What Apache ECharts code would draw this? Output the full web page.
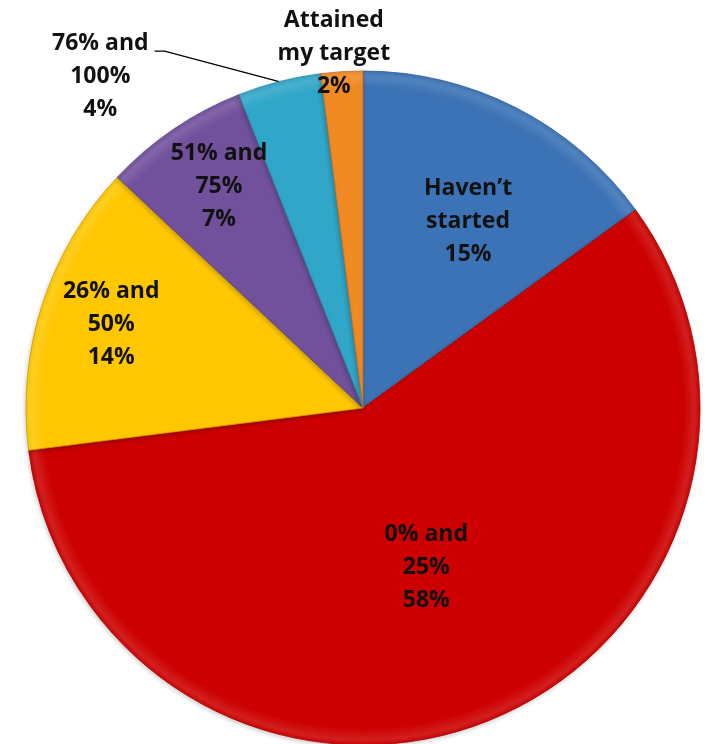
<!DOCTYPE html>
<html>
<head>
<meta charset="utf-8">
<script src="https://cdn.jsdelivr.net/npm/echarts@6/dist/echarts.min.js"></script>
<style>
  html, body { margin: 0; padding: 0; background: #ffffff; }
  #chart { width: 709px; height: 744px; }
</style>
</head>
<body>
<div id="chart"></div>
<script>
// Progress toward target: share of respondents in each band
const categories = ["Haven\u2019t started", "0% and 25%", "26% and 50%", "51% and 75%", "76% and 100%", "Attained my target"];
const labelTexts = ["Haven\u2019t\nstarted", "0% and\n25%", "26% and\n50%", "51% and\n75%", "76% and\n100%", "Attained\nmy target"];
const values = [15, 58, 14, 7, 4, 2];
const colors = ["#3b73b6", "#cc0000", "#ffc700", "#71519c", "#30a6c8", "#f28a24"];

// Pie geometry (pixels)
const CX = 363, CY = 408, R = 337;

// Label placement: radius as a fraction of R, angle nudge in degrees
const labelRadius = [0.635, 0.51, 0.787, 0.785, 1.255, 1.055];
const labelAngleShift = [2.4, 0, 0.3, 1.2, -24, -1.1];
const LINE_H = 33;

function shade(hex, f) {
  const n = parseInt(hex.slice(1), 16);
  let r = (n >> 16) & 255, g = (n >> 8) & 255, b = n & 255;
  const mix = (c) => f >= 0 ? Math.round(c + (255 - c) * f) : Math.round(c * (1 + f));
  return "rgb(" + mix(r) + "," + mix(g) + "," + mix(b) + ")";
}

const total = values.reduce((a, b) => a + b, 0);
const midAngles = [];
let acc = 0;
values.forEach(v => { midAngles.push((acc + v / 2) / total * 360); acc += v; });

const data = values.map((v, i) => ({
  name: categories[i],
  value: v,
  itemStyle: {
    color: {
      type: "radial", x: CX, y: CY, r: R, global: true,
      colorStops: [
        { offset: 0, color: colors[i] },
        { offset: 0.95, color: colors[i] },
        { offset: 0.985, color: shade(colors[i], 0.12) },
        { offset: 1, color: shade(colors[i], 0.02) }
      ]
    },
    borderColor: shade(colors[i], -0.2),
    borderWidth: 0.8,
    shadowColor: "rgba(0,0,0,0.18)",
    shadowBlur: 4,
    shadowOffsetX: -1,
    shadowOffsetY: 2
  },
  label: i === 4 ? { position: "outside" } : { position: "inside" },
  labelLine: i === 4 ? { show: true, lineStyle: { color: "#000", width: 1.3 } } : { show: false }
}));

const chart = echarts.init(document.getElementById("chart"), null, { renderer: "canvas" });
chart.setOption({
  animation: false,
  series: [{
    type: "pie",
    center: [CX, CY],
    radius: [0, R],
    startAngle: 90,
    clockwise: true,
    data: data,
    label: {
      show: true,
      formatter: p => labelTexts[p.dataIndex] + "\n" + p.value + "%",
      fontFamily: "Open Sans",
      fontWeight: "bold",
      fontSize: 23,
      lineHeight: LINE_H,
      color: "#111",
      align: "center"
    },
    labelLayout: function (p) {
      const i = p.dataIndex;
      const a = (midAngles[i] + labelAngleShift[i]) * Math.PI / 180;
      const rr = labelRadius[i] * R;
      const lx = CX + rr * Math.sin(a);
      const ly = CY - rr * Math.cos(a);
      const out = { x: lx, y: ly, align: "center", verticalAlign: "middle" };
      if (i === 4) {
        // leader from the slice rim to the end of the first text line
        const m = midAngles[i] * Math.PI / 180;
        const ex = CX + R * Math.sin(m), ey = CY - R * Math.cos(m);
        const hy = ly - LINE_H * 0.77;
        const hx = lx + p.labelRect.width / 2 + 6;
        out.labelLinePoints = [[ex, ey], [hx + 10, hy], [hx, hy]];
      }
      return out;
    }
  }]
});
</script>
</body>
</html>
